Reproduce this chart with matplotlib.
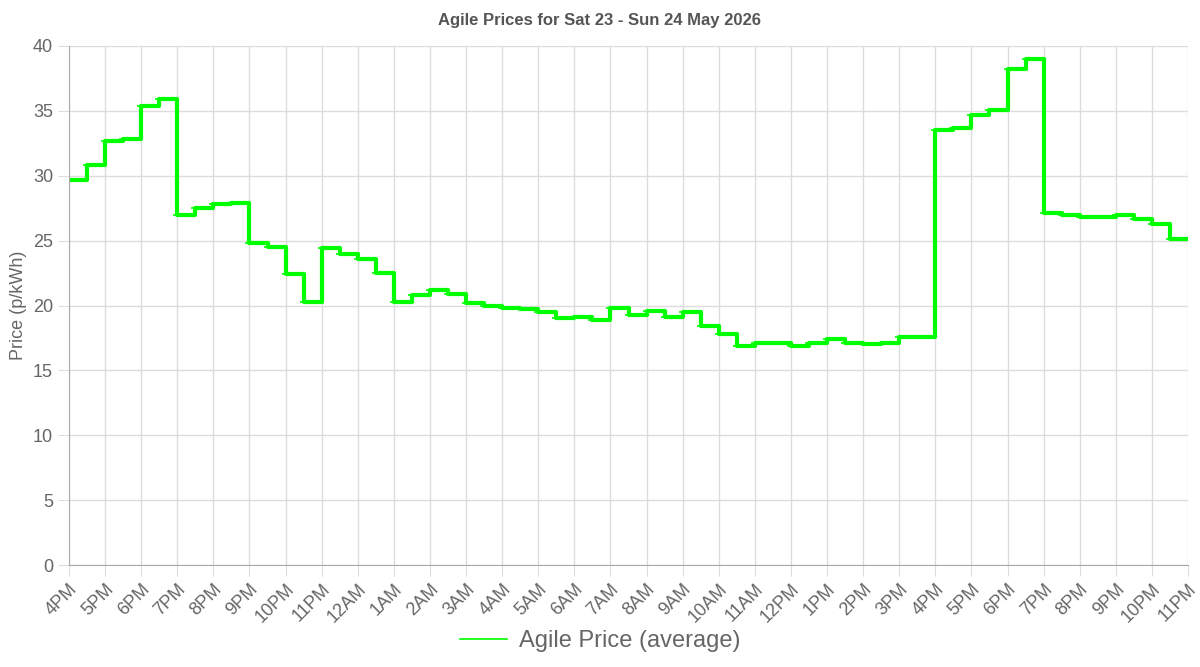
import matplotlib
matplotlib.use("Agg")
import matplotlib.pyplot as plt
import numpy as np

prices = [29.7,30.8,32.7,32.8,35.4,35.9,27.0,27.5,27.8,27.9,24.8,24.5,22.4,20.3,
          24.4,24.0,23.6,22.5,20.3,20.8,21.2,20.9,20.2,20.0,19.8,19.7,19.5,19.0,19.1,18.9,
          19.8,19.3,19.6,19.1,19.5,18.4,17.8,16.9,17.1,17.1,16.9,17.1,17.4,17.1,17.0,17.1,
          17.6,17.6,33.5,33.7,34.7,35.1,38.2,39.0,27.1,27.0,26.8,26.8,27.0,26.7,26.3,25.1]
hour_labels = ["4PM","5PM","6PM","7PM","8PM","9PM","10PM","11PM","12AM","1AM","2AM","3AM",
               "4AM","5AM","6AM","7AM","8AM","9AM","10AM","11AM","12PM","1PM","2PM","3PM",
               "4PM","5PM","6PM","7PM","8PM","9PM","10PM","11PM"]

plt.rcParams['font.family'] = ['Liberation Sans', 'DejaVu Sans']
fig = plt.figure(figsize=(12, 6.67), dpi=100)
ax = fig.add_axes([69/1200, 1-565/667, (1188-69)/1200, (565-46)/667])

x = np.arange(len(prices)) * 0.5
xs = np.append(x, len(prices) * 0.5)
ys = np.append(prices, prices[-1])
green = '#00ff00'
ax.plot(xs, ys, drawstyle='steps-post', color=green, lw=3, label='Agile Price (average)')
ax.plot(x, prices, ls='none', marker='_', ms=6, mew=1.2, color=green)

ax.set_xlim(0, 31)
ax.set_ylim(0, 40)
ax.set_xticks(np.arange(len(hour_labels)))
ax.set_xticklabels(hour_labels, rotation=45, ha='right', rotation_mode='anchor', fontsize=13, color='#666666')
ax.set_yticks(np.arange(0, 41, 5))
ax.tick_params(axis='y', labelsize=13, labelcolor='#666666', length=8, color='#dddddd')
ax.tick_params(axis='x', length=8, color='#dddddd')
ax.grid(True, color='#dcdcdc', lw=1)
ax.set_axisbelow(True)
for s in ['top', 'right']:
    ax.spines[s].set_visible(False)
for s in ['left', 'bottom']:
    ax.spines[s].set_color('#aaaaaa')
ax.set_ylabel('Price (p/kWh)', fontsize=13, color='#666666')
fig.text(0.5, 1-21/667, 'Agile Prices for Sat 23 - Sun 24 May 2026', ha='center', va='center',
         fontsize=12, fontweight='bold', color='#555555')
h, l = ax.get_legend_handles_labels()
leg = fig.legend(h[:1], l[:1], loc='center', bbox_to_anchor=(0.5, 1-641/667), frameon=False,
                 fontsize=17, handlelength=2, handletextpad=0.5)
for t in leg.get_texts():
    t.set_color('#666666')
for ln in leg.get_lines():
    ln.set_linewidth(1.2)
fig.savefig('out.png', dpi=100)
